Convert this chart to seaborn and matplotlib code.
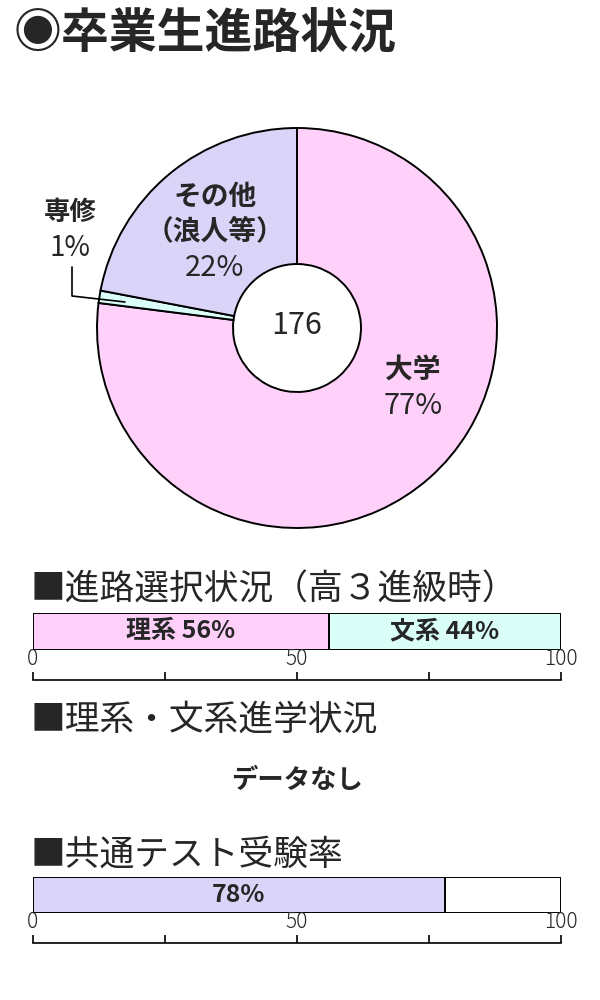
import numpy as np
import pandas as pd
import matplotlib
matplotlib.use("Agg")
import matplotlib.pyplot as plt
import seaborn as sns

sns.set_theme(style="white")
plt.rcParams["font.family"] = ["Noto Sans CJK JP", "DejaVu Sans"]

# データ
pie_labels = ["大学", "専修", "その他\n（浪人等）"]
pie_values = [77, 1, 22]
total_grads = 176

course_labels = ["理系", "文系"]
course_values = [56, 44]

exam_label = "共通テスト"
exam_rate = 78

PINK = "#FFD0FA"
CYAN = "#D9FFF8"
LAVENDER = "#D9D4F8"

fig = plt.figure(figsize=(6, 10), dpi=100)
fig.patch.set_facecolor("white")

# タイトル
fig.text(14 / 600, 1 - 33 / 1000, "◉卒業生進路状況", fontsize=34.5,
         fontweight="bold", va="center", ha="left")

# =============================================================
# 円グラフ（ドーナツ）
# =============================================================
ax_pie = fig.add_axes([97 / 600, 1 - 528 / 1000, 400 / 600, 400 / 1000])
ax_pie.pie(pie_values, colors=[PINK, CYAN, LAVENDER], startangle=90,
           counterclock=False, radius=1,
           wedgeprops=dict(width=0.68, edgecolor="black", linewidth=1.4))
ax_pie.set_xlim(-1, 1)
ax_pie.set_ylim(-1, 1)
ax_pie.set_aspect("equal")
ax_pie.axis("off")

ax_pie.text(0, 0.01, str(total_grads), ha="center", va="center", fontsize=22)

# 大学
ax_pie.text(0.58, -0.21, pie_labels[0], ha="center", va="center",
            fontsize=20, fontweight="bold")
ax_pie.text(0.58, -0.39, f"{pie_values[0]}%", ha="center", va="center",
            fontsize=21)
# その他
ax_pie.text(-0.41, 0.57, pie_labels[2], ha="center", va="center",
            fontsize=20, fontweight="bold", linespacing=1.3)
ax_pie.text(-0.41, 0.30, f"{pie_values[2]}%", ha="center", va="center",
            fontsize=21)
# 専修
ax_pie.text(-1.135, 0.575, pie_labels[1], ha="center", va="center",
            fontsize=19, fontweight="bold")
ax_pie.text(-1.135, 0.40, f"{pie_values[1]}%", ha="center", va="center",
            fontsize=20)
ax_pie.plot([-1.125, -1.125, -0.86], [0.305, 0.16, 0.13], color="black",
            linewidth=1.2, clip_on=False)


def draw_scale(y_px):
    ax_s = fig.add_axes([33 / 600, 1 - y_px / 1000, 528 / 600, 0.0005])
    ax_s.set_xlim(0, 100)
    ax_s.set_yticks([])
    ax_s.set_xticks([0, 25, 50, 75, 100])
    ax_s.set_xticklabels(["0", "", "50", "", "100"])
    for s in ["top", "left", "right"]:
        ax_s.spines[s].set_visible(False)
    ax_s.spines["bottom"].set_color("black")
    ax_s.spines["bottom"].set_linewidth(1.2)
    ax_s.patch.set_alpha(0)
    ax_s.tick_params(axis="x", bottom=True, top=False, labelbottom=False,
                     labeltop=True, direction="in", length=6, width=1.2,
                     color="black", pad=7, labelsize=15)
    for t in ax_s.get_xticklabels():
        t.set_fontweight("light")


def stacked_bar(ax, labels, values, colors):
    cum = np.cumsum(values)
    starts = cum - np.array(values)
    # 後ろから描いて重ねる
    for end, col in reversed(list(zip(cum, colors))):
        df = pd.DataFrame({"cat": ["a"], "val": [end]})
        sns.barplot(data=df, x="val", y="cat", orient="h", color=col,
                    edgecolor="black", linewidth=1.4, width=1.0,
                    saturation=1, ax=ax)
    for lab, s, v in zip(labels, starts, values):
        if lab is None:
            continue
        ax.text(s + v / 2, 0, lab, ha="center", va="center", fontsize=18,
                fontweight="bold")
    ax.set_xlim(0, 100)
    ax.set_ylim(0.5, -0.5)
    ax.axis("off")


# =============================================================
# 進路選択状況
# =============================================================
fig.text(31 / 600, 1 - 590 / 1000, "■進路選択状況（高３進級時）",
         fontsize=25, va="center", ha="left")
ax_b1 = fig.add_axes([33 / 600, 1 - 650 / 1000, 528 / 600, 37 / 1000])
stacked_bar(ax_b1,
            [f"{l} {v}%" for l, v in zip(course_labels, course_values)],
            course_values, [PINK, CYAN])
draw_scale(680)

# =============================================================
# 理系・文系進学状況
# =============================================================
fig.text(31 / 600, 1 - 720 / 1000, "■理系・文系進学状況",
         fontsize=25, va="center", ha="left")
fig.text(297 / 600, 1 - 780 / 1000, "データなし", fontsize=19,
         fontweight="bold", va="center", ha="center")

# =============================================================
# 共通テスト受験率
# =============================================================
fig.text(31 / 600, 1 - 855 / 1000, f"■{exam_label}受験率",
         fontsize=25, va="center", ha="left")
ax_b2 = fig.add_axes([33 / 600, 1 - 913 / 1000, 528 / 600, 36 / 1000])
stacked_bar(ax_b2, [f"{exam_rate}%", None],
            [exam_rate, 100 - exam_rate], [LAVENDER, "white"])
draw_scale(943)

plt.savefig("out.png", dpi=100)
